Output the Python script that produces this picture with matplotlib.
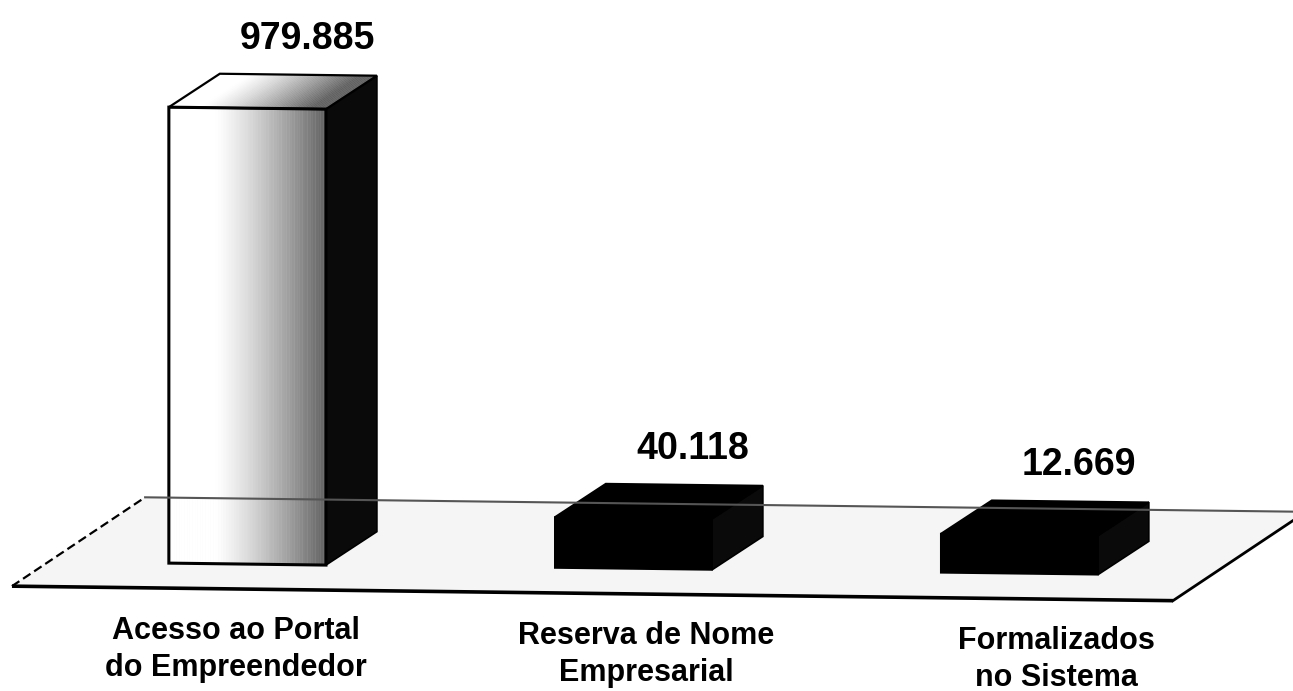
import numpy as np
import matplotlib.pyplot as plt
from matplotlib.patches import Polygon
from matplotlib.transforms import Affine2D

# data
categories = ['Acesso ao Portal\ndo Empreendedor', 'Reserva de Nome\nEmpresarial', 'Formalizados\nno Sistema']
values = [979.885, 40.118, 12.669]
value_labels = ['979.885', '40.118', '12.669']

# style (not data)
shaded = [True, False, False]

plt.rcParams['font.family'] = ['Liberation Sans', 'DejaVu Sans']

fig = plt.figure(figsize=(1293 / 100, 691 / 100), dpi=100)
ax = fig.add_axes([0, 0, 1, 1])
ax.set_xlim(-0.641, 2.709)
ax.set_ylim(-379.6, 1223.6)
ax.axis('off')

# the floor of the old 3d chart tilts slightly down to the right
tilt = ax.transData + Affine2D().skew(0, -0.0125)

base = -78.0      # value where the bars start (floor level)
width = 0.407
dx, dy = 0.132, 79.0   # depth of the boxes

# floor
fl_front, fl_back = -136.0, 74.0
fl_left, fl_right = -0.61, 2.398
fl_dx = 0.345
floor = Polygon([(fl_left, fl_front), (fl_right, fl_front),
                 (fl_right + fl_dx, fl_back), (fl_left + fl_dx, fl_back)],
                closed=True, fc='#f5f5f5', ec='none', transform=tilt)
ax.add_patch(floor)
ax.plot([fl_left, fl_right], [fl_front, fl_front], color='black', lw=2.6,
        transform=tilt, solid_capstyle='butt')
ax.plot([fl_right, fl_right + fl_dx], [fl_front, fl_back], color='black', lw=2.0,
        transform=tilt)
ax.plot([fl_left, fl_left + fl_dx], [fl_front, fl_back], color='black', lw=1.6,
        ls=(0, (4, 2)), transform=tilt)
ax.plot([fl_left + fl_dx, fl_right + fl_dx], [fl_back, fl_back], color='#555555', lw=1.5,
        transform=tilt)


def grey(t):
    # white on the left, darker to the right
    s = max(0.0, (t - 0.3) / 0.7)
    g = 1.0 - 0.62 * s ** 1.2
    return (g, g, g)


nstrip = 60
for i, v in enumerate(values):
    x0, x1 = i - width / 2, i + width / 2
    y0, y1 = base, v

    side = Polygon([(x1, y0), (x1 + dx, y0 + dy), (x1 + dx, y1 + dy), (x1, y1)],
                   closed=True, fc='#0a0a0a', ec='black', lw=1.2, transform=tilt)
    ax.add_patch(side)

    if shaded[i]:
        ts = np.linspace(0, 1, nstrip + 1)
        for k in range(nstrip):
            a, b = ts[k], ts[k + 1]
            xa, xb = x0 + a * width, x0 + b * width
            c = grey((a + b) / 2)
            ax.add_patch(Polygon([(xa, y0), (xb, y0), (xb, y1), (xa, y1)], closed=True,
                                 fc=c, ec=c, lw=0.3, transform=tilt))
            ct = grey(min(1.0, (a + b) / 2 + 0.1))
            ax.add_patch(Polygon([(xa, y1), (xb, y1), (xb + dx, y1 + dy), (xa + dx, y1 + dy)],
                                 closed=True, fc=ct, ec=ct, lw=0.3, transform=tilt))
        ax.add_patch(Polygon([(x0, y0), (x1, y0), (x1, y1), (x0, y1)], closed=True,
                             fill=False, ec='black', lw=2.2, transform=tilt))
        ax.add_patch(Polygon([(x0, y1), (x1, y1), (x1 + dx, y1 + dy), (x0 + dx, y1 + dy)],
                             closed=True, fill=False, ec='black', lw=1.6, transform=tilt))
    else:
        ax.add_patch(Polygon([(x0, y1), (x1, y1), (x1 + dx, y1 + dy), (x0 + dx, y1 + dy)],
                             closed=True, fc='black', ec='black', lw=1.2, transform=tilt))
        ax.add_patch(Polygon([(x0, y0), (x1, y0), (x1, y1), (x0, y1)], closed=True,
                             fc='black', ec='black', lw=1.2, transform=tilt))

    ax.text(i + 0.155, v + dy + 84, value_labels[i], ha='center', va='center',
            fontsize=27, fontweight='bold', transform=tilt)

for i, name in enumerate(categories):
    ax.text(-0.03 + 1.063 * i, -276, name, ha='center', va='center', fontsize=22,
            fontweight='bold', linespacing=1.28, transform=tilt)

fig.savefig('out.png', dpi=100)
